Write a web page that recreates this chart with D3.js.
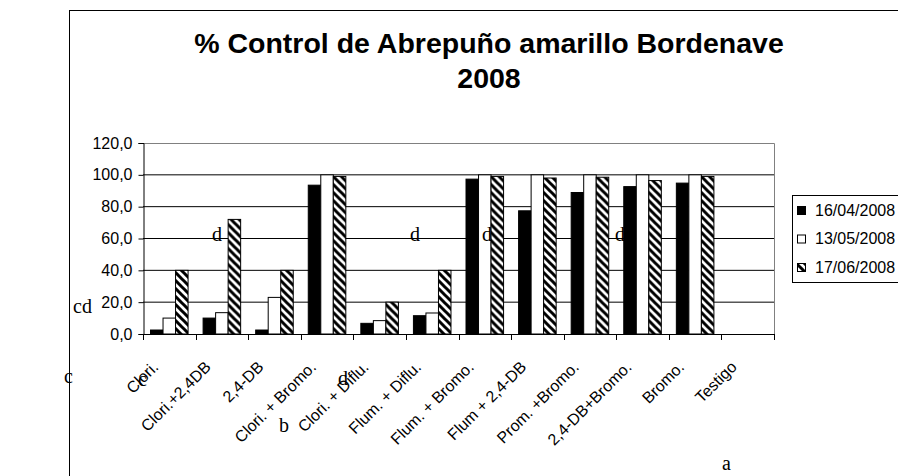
<!DOCTYPE html>
<html>
<head>
<meta charset="utf-8">
<script src="https://cdnjs.cloudflare.com/ajax/libs/d3/7.8.5/d3.min.js"></script>
<style>
  body { margin: 0; background: #fff; }
  svg { display: block; }
  .tick-label { font-family: "Liberation Sans", Arial, sans-serif; font-size: 16px; fill: #000; }
  .title { font-family: "Liberation Sans", Arial, sans-serif; font-size: 28.5px; font-weight: bold; }
  .note { font-family: "Liberation Serif", "Times New Roman", serif; font-size: 20px; fill: #000; }
</style>
</head>
<body>
<svg id="chart" width="898" height="476"></svg>
<script>
/*global d3*/

var categories = ["Clori.", "Clori.+2,4DB", "2,4-DB", "Clori. + Bromo.", "Clori. + Diflu.",
  "Flum. + Diflu.", "Flum. + Bromo.", "Flum + 2,4-DB", "Prom. +Bromo.", "2,4-DB+Bromo.",
  "Bromo.", "Testigo"];
var seriesNames = ["16/04/2008", "13/05/2008", "17/06/2008"];
var s1 = [2.5, 10, 2.5, 93.5, 6.7, 11.5, 97.3, 77.4, 88.9, 92.6, 94.8, 0];
var s2 = [10, 13.4, 23, 100, 8.4, 13.2, 100, 100, 100, 100, 100, 0];
var s3 = [40, 72, 40, 99, 20, 40, 99, 98, 98.5, 96.4, 99, 0];
var yTicks = [0, 20, 40, 60, 80, 100, 120];
// stray letters from the page the chart was pasted on
var notes = [
  { t: "cd", x: 73, y: 313, back: false },
  { t: "d", x: 212, y: 241, back: false },
  { t: "d", x: 410, y: 241, back: false },
  { t: "d", x: 482, y: 241, back: false },
  { t: "d", x: 543, y: 241, back: true },
  { t: "d", x: 615, y: 241, back: false },
  { t: "d", x: 686, y: 241, back: true },
  { t: "c", x: 64, y: 383, back: false },
  { t: "c", x: 138, y: 386, back: false },
  { t: "d", x: 338, y: 385, back: false },
  { t: "b", x: 279, y: 432, back: false },
  { t: "a", x: 722, y: 470, back: false }
];

var svg = d3.select("#chart");
var series = [s1, s2, s3];

var plot = { left: 143, right: 774, top: 143, bottom: 334 };

var x0 = d3.scaleBand().domain(categories).range([plot.left, plot.right]).padding(0);
var x1 = d3.scaleBand().domain(d3.range(3)).range([0, x0.bandwidth()])
    .paddingInner(0).paddingOuter(0.6);
var y = d3.scaleLinear().domain([0, 120]).range([plot.bottom, plot.top]);

var defs = svg.append("defs");
var hatch = defs.append("pattern")
    .attr("id", "hatch")
    .attr("patternUnits", "userSpaceOnUse")
    .attr("width", 8)
    .attr("height", 8);
hatch.append("rect").attr("width", 8).attr("height", 8).attr("fill", "#fff");
hatch.append("path")
    .attr("d", "M-2,-2L10,10M-2,6L2,10M6,-2L10,2")
    .attr("stroke", "#000")
    .attr("stroke-width", 3);

var fills = ["#000", "#fff", "url(#hatch)"];

// outer chart border
svg.append("rect")
    .attr("x", 69.5).attr("y", 10.5)
    .attr("width", 900).attr("height", 500)
    .attr("fill", "none").attr("stroke", "#000");

// title
svg.append("text").attr("class", "title")
    .attr("x", 489).attr("y", 53).attr("text-anchor", "middle")
    .text("% Control de Abrepuño amarillo Bordenave");
svg.append("text").attr("class", "title")
    .attr("x", 489).attr("y", 88).attr("text-anchor", "middle")
    .text("2008");

// gridlines
svg.append("g")
    .selectAll("line")
    .data(yTicks.filter(function (d) { return d > 0 && d < 120; }))
    .enter().append("line")
    .attr("x1", plot.left).attr("x2", plot.right)
    .attr("y1", function (d) { return y(d); })
    .attr("y2", function (d) { return y(d); })
    .attr("stroke", "#000");

// plot area border (top + right)
svg.append("path")
    .attr("d", "M" + plot.left + "," + (y(120) + 0.5) + "H" + (plot.right + 0.5) + "V" + plot.bottom)
    .attr("fill", "none")
    .attr("stroke", "#808080");

function drawNotes(back) {
  svg.append("g")
      .selectAll("text")
      .data(notes.filter(function (d) { return d.back === back; }))
      .enter().append("text")
      .attr("class", "note")
      .attr("x", function (d) { return d.x; })
      .attr("y", function (d) { return d.y; })
      .text(function (d) { return d.t; });
}

drawNotes(true);

// bars
var groups = svg.append("g")
    .selectAll("g")
    .data(categories)
    .enter().append("g")
    .attr("transform", function (d) { return "translate(" + x0(d) + ",0)"; });

groups.selectAll("rect")
    .data(function (d, i) { return series.map(function (s, k) { return { k: k, v: s[i] }; }); })
    .enter().append("rect")
    .filter(function (d) { return d.v > 0; })
    .attr("x", function (d) { return x1(d.k); })
    .attr("y", function (d) { return y(d.v); })
    .attr("width", x1.bandwidth())
    .attr("height", function (d) { return y(0) - y(d.v); })
    .attr("fill", function (d) { return fills[d.k]; })
    .attr("stroke", "#000")
    .attr("stroke-width", 1);

// y axis
var yAxis = d3.axisLeft(y).tickValues(yTicks).tickSize(5).tickPadding(6)
    .tickFormat(function (d) { return d3.format(".1f")(d).replace(".", ","); });
var ya = svg.append("g")
    .attr("transform", "translate(" + (plot.left + 0.5) + ",0)")
    .call(yAxis);
ya.select(".domain").attr("stroke", "#000");
ya.selectAll("text").attr("class", "tick-label").attr("font-family", null).attr("font-size", null);

// x axis line + ticks at category boundaries
svg.append("line")
    .attr("x1", plot.left).attr("x2", plot.right + 1)
    .attr("y1", plot.bottom + 0.5).attr("y2", plot.bottom + 0.5)
    .attr("stroke", "#000");
var bounds = categories.map(function (d) { return x0(d); }).concat([plot.right]);
svg.append("g")
    .selectAll("line")
    .data(bounds)
    .enter().append("line")
    .attr("x1", function (d) { return Math.round(d) + 0.5; })
    .attr("x2", function (d) { return Math.round(d) + 0.5; })
    .attr("y1", plot.bottom).attr("y2", plot.bottom + 6)
    .attr("stroke", "#000");

svg.append("g")
    .selectAll("text")
    .data(categories)
    .enter().append("text")
    .attr("class", "tick-label")
    .attr("text-anchor", "end")
    .attr("transform", function (d) {
      return "translate(" + (x0(d) + x0.bandwidth() / 2 - 10) + ",368) rotate(-45)";
    })
    .text(function (d) { return d; });

drawNotes(false);

// legend
var legend = svg.append("g").attr("transform", "translate(792,195)");
legend.append("rect")
    .attr("x", 0.5).attr("y", 0.5)
    .attr("width", 130).attr("height", 87)
    .attr("fill", "#fff").attr("stroke", "#000");
var item = legend.selectAll("g.item")
    .data(seriesNames)
    .enter().append("g")
    .attr("class", "item")
    .attr("transform", function (d, i) { return "translate(0," + (15 + i * 28.5) + ")"; });
item.append("rect")
    .attr("x", 5.5).attr("y", -3.5)
    .attr("width", 8).attr("height", 8)
    .attr("fill", function (d, i) { return fills[i]; })
    .attr("stroke", "#000");
item.append("text")
    .attr("class", "tick-label")
    .attr("x", 23).attr("y", 0)
    .attr("dy", "0.35em")
    .text(function (d) { return d; });
</script>
</body>
</html>
